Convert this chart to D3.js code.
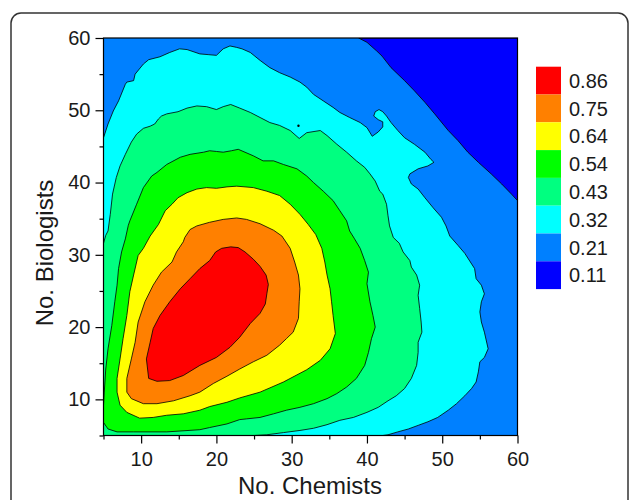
<!DOCTYPE html>
<html>
<head>
<meta charset="utf-8">
<script src="https://cdn.jsdelivr.net/npm/d3@7"></script>
<style>
  body { margin: 0; background: #fff; }
  text { font-family: "Liberation Sans", Arial, sans-serif; fill: #1a1a1a; }
</style>
</head>
<body>
<script>
// Contour levels, top of legend to bottom
const levels = [0.86, 0.75, 0.64, 0.54, 0.43, 0.32, 0.21, 0.11];
const colors = ["#ff0000", "#ff8000", "#ffff00", "#00ff00", "#00ff80", "#00ffff", "#0080ff", "#0000ff"];

const xTicks = [10, 20, 30, 40, 50, 60];
const xMinor = [5, 15, 25, 35, 45, 55];
const yTicks = [10, 20, 30, 40, 50, 60];
const yMinor = [5, 15, 25, 35, 45, 55];

// Region boundaries, [chemists, biologists]
const contour011 = [[38.9,60],[40.0,59.4],[41.3,58.2],[42.0,57.5],[43.2,55.9],[45.0,54.1],[46.3,52.7],[47.7,51.1],
  [49.0,49.5],[50.8,47.2],[52.1,45.8],[53.4,44.2],[54.8,42.8],[56.5,41.2],[57.9,39.8],[59.2,38.4],[60,37.5],[60,60]];

const contour032 = [[5,46.2],[5.6,48.1],[6.3,49.9],[7.0,51.3],[7.9,53.6],[8.1,53.9],[9.0,54.1],[9.2,55.0],[10.3,56.4],
  [11.0,57.0],[12.5,57.4],[13.8,58.0],[15.1,58.5],[16.1,58.4],[17.8,57.8],[18.9,57.7],[20.0,57.6],[20.9,58.5],[21.8,58.9],
  [22.7,58.7],[23.4,58.5],[24.5,58.0],[25.8,56.9],[27.1,55.9],[28.4,55.2],[29.8,54.6],[31.1,53.9],[32.0,53.2],[32.9,52.2],
  [34.2,51.3],[35.5,50.4],[36.4,49.7],[37.7,49.0],[39.1,48.3],[40.0,47.6],[40.7,46.4],[41.5,47.0],[42.1,47.7],[42.1,48.4],
  [41.5,48.7],[40.9,49.2],[41.1,49.8],[41.6,50.1],[42.1,49.8],[42.6,49.2],[43.2,48.3],[44.1,47.2],[45.0,46.2],[46.3,45.3],
  [47.7,44.2],[48.5,43.2],[48.9,42.8],[48.1,42.3],[46.8,41.9],[45.7,41.2],[45.5,40.7],[45.9,39.8],[46.8,39.1],[47.7,37.9],
  [48.8,36.5],[49.9,35.2],[50.5,34.0],[51.0,32.6],[52.1,31.3],[53.0,30.2],[54.3,28.1],[54.5,26.7],[55.2,25.8],[55.6,24.6],
  [55.2,23.5],[55.0,22.1],[55.2,20.7],[55.6,19.3],[56.1,17.0],[55.6,15.8],[55.0,15.2],[54.8,13.8],[54.5,12.4],[53.9,11.5],
  [53.0,10.5],[51.9,9.4],[50.8,8.5],[49.4,7.5],[48.1,6.9],[46.8,6.4],[45.5,5.9],[44.1,5.5],[42.8,5.1],[42.1,5],[5,5]];

const contour043 = [[5,31.6],[5.3,32.7],[5.6,33.3],[5.9,35.6],[6.2,38.4],[6.7,40.7],[7.2,42.3],[7.9,43.9],[8.7,45.6],
  [9.4,46.7],[10.3,47.5],[11.2,47.8],[11.8,48.1],[12.3,48.8],[12.7,49.2],[13.4,49.5],[14.9,49.8],[16.1,50.3],[17.4,50.6],
  [18.7,50.5],[20.0,50.1],[20.9,50.5],[21.9,50.8],[23.1,50.3],[24.5,49.7],[25.8,49.0],[27.1,48.3],[28.4,47.9],[29.8,47.2],
  [31.0,46.1],[32.0,46.9],[33.8,47.2],[34.7,46.5],[36.0,45.3],[37.3,44.2],[38.6,43.0],[39.7,42.1],[40.4,41.2],[41.1,40.2],
  [41.7,38.8],[42.1,38.4],[42.6,37.0],[42.8,35.4],[43.0,34.0],[43.5,32.4],[44.3,31.6],[44.8,30.4],[45.7,29.2],[45.9,28.3],
  [46.6,27.2],[47.0,25.8],[46.8,24.4],[47.0,22.6],[47.2,20.7],[47.3,19.3],[46.8,17.9],[46.8,16.5],[46.6,14.7],[45.9,12.9],
  [45.0,11.5],[43.9,10.5],[42.8,9.8],[41.5,8.9],[40.0,8.2],[38.2,7.5],[36.4,7.1],[34.7,6.5],[32.9,6.0],[31.1,5.7],
  [28.9,5.4],[26.7,5.1],[25.0,5],[5,5]];

const contour054 = [[5,9.2],[5.1,11.0],[5.3,14.2],[5.6,17.0],[6.1,20.2],[6.5,23.5],[6.8,25.8],[7.0,28.1],[7.4,30.4],
  [7.9,32.2],[8.3,34.1],[8.5,34.7],[9.4,37.0],[10.3,39.3],[11.4,40.9],[12.1,41.4],[13.4,42.5],[15.2,43.5],[16.5,43.9],
  [18.3,44.2],[19.1,44.4],[20.0,44.3],[20.9,44.2],[22.0,44.4],[22.9,44.6],[24.9,43.7],[26.2,43.0],[27.6,43.0],[28.9,42.5],
  [30.7,41.9],[32.0,40.9],[32.9,40.0],[34.2,38.8],[35.5,37.5],[36.4,36.1],[37.3,34.7],[37.7,33.3],[38.3,32.3],[39.1,30.9],
  [39.7,29.2],[40.2,27.6],[40.0,26.0],[40.4,23.5],[40.8,21.6],[41.1,20.0],[40.6,18.4],[40.2,16.5],[39.7,14.7],[38.6,12.9],
  [37.3,11.7],[36.0,10.8],[34.7,10.1],[32.9,9.4],[31.1,8.9],[29.3,8.5],[27.6,8.0],[25.8,7.5],[24.0,7.3],[23.1,7.2],
  [21.4,6.6],[19.1,6.1],[17.8,5.8],[13.4,5.5],[9.0,5.5],[6.8,5.5],[5.6,5.9],[5,6.8]];

const contour064 = [[11.2,32.6],[12.3,34.2],[13.2,36.1],[14.1,37.0],[14.9,37.9],[16.1,38.6],[17.4,39.1],[18.7,39.3],
  [20.0,39.2],[21.4,39.4],[22.7,39.5],[24.9,39.3],[26.7,38.8],[28.4,38.2],[29.8,37.0],[31.1,35.6],[32.2,34.2],[33.2,32.8],
  [34.0,30.9],[34.4,29.0],[34.7,27.2],[35.1,25.3],[35.3,23.5],[35.5,21.6],[35.8,19.1],[35.1,17.0],[33.8,15.4],[32.0,14.1],
  [28.9,12.4],[25.8,11.0],[23.1,10.2],[21.4,9.6],[19.1,9.0],[17.8,8.5],[15.6,8.0],[13.4,7.8],[11.6,7.5],[9.8,7.4],
  [8.1,8.2],[7.2,9.2],[6.8,11.0],[6.8,12.9],[7.2,15.6],[7.6,18.4],[8.1,21.6],[8.5,24.9],[9.0,27.2],[9.6,29.9],[10.3,30.9]];

const contour075 = [[15.8,32.4],[16.5,33.5],[17.4,34.0],[19.1,34.5],[20.9,34.9],[22.7,35.1],[24.0,34.9],[25.8,34.3],
  [27.6,33.4],[28.7,32.6],[29.8,30.9],[30.4,29.0],[30.9,27.2],[31.1,25.3],[31.0,23.5],[30.9,21.2],[30.2,19.3],[29.3,18.4],
  [28.4,17.5],[26.7,16.1],[24.9,15.2],[23.1,14.2],[21.4,13.2],[19.6,12.2],[17.8,11.0],[16.5,10.5],[14.3,9.8],[12.1,9.4],
  [10.3,9.4],[8.7,10.1],[8.1,11.0],[8.1,12.9],[8.7,15.6],[9.2,17.9],[9.6,20.7],[10.5,23.5],[11.6,25.8],[12.7,27.6],
  [14.1,29.0],[14.7,30.4],[15.6,31.8]];

const contour086 = [[20.7,30.9],[21.9,31.1],[22.9,31.0],[23.8,30.4],[24.9,29.4],[25.8,28.4],[26.6,27.2],[26.9,25.9],
  [26.7,24.6],[26.5,23.2],[25.8,21.9],[24.5,20.5],[23.1,18.6],[21.8,17.2],[20.0,15.8],[17.8,14.7],[15.6,13.3],[13.8,12.6],
  [12.1,12.5],[11.0,12.9],[10.7,15.6],[11.2,17.9],[11.6,19.8],[12.5,21.6],[13.8,23.5],[15.2,25.3],[16.5,26.7],[17.8,28.1],
  [19.1,29.2],[19.9,30.4]];

// a tiny closed contour inside the 0.43 band
const specks = [[30.9, 47.85]];

let width = 630;
let height = 500;

let svg = d3.select('body').append('svg')
            .attr('width', width)
            .attr('height', height);

// The rounded outer frame
svg.append('rect').attr('x', 11)
                  .attr('y', 13)
                  .attr('width', 617)
                  .attr('height', 540)
                  .attr('rx', 10)
                  .attr('fill', 'none')
                  .attr('stroke', '#333')
                  .attr('stroke-width', 1.5);

let x = d3.scaleLinear().domain([5, 60]).range([103.5, 517.5]);
let y = d3.scaleLinear().domain([5, 60]).range([435.5, 38]);

svg.append('clipPath').attr('id', 'plot-clip')
   .append('rect').attr('x', x(5))
                  .attr('y', y(60))
                  .attr('width', x(60) - x(5))
                  .attr('height', y(5) - y(60));

let plot = svg.append('g').attr('clip-path', 'url(#plot-clip)');

// Lowest band fills the whole plot
plot.append('rect').attr('x', x(5))
                   .attr('y', y(60))
                   .attr('width', x(60) - x(5))
                   .attr('height', y(5) - y(60))
                   .attr('fill', colors[levels.indexOf(0.21)]);

let regions = [
  { level: 0.11, points: contour011 },
  { level: 0.32, points: contour032 },
  { level: 0.43, points: contour043 },
  { level: 0.54, points: contour054 },
  { level: 0.64, points: contour064 },
  { level: 0.75, points: contour075 },
  { level: 0.86, points: contour086 }
];

let line = d3.line()
             .x(d => x(d[0]))
             .y(d => y(d[1]))
             .curve(d3.curveLinearClosed);

plot.selectAll('path.band')
    .data(regions)
    .join('path')
    .attr('class', 'band')
    .attr('d', d => line(d.points))
    .attr('fill', d => colors[levels.indexOf(d.level)])
    .attr('stroke', '#000')
    .attr('stroke-width', 0.8)
    .attr('stroke-linejoin', 'round');

plot.selectAll('circle.speck')
    .data(specks)
    .join('circle')
    .attr('class', 'speck')
    .attr('cx', d => x(d[0]))
    .attr('cy', d => y(d[1]))
    .attr('r', 1.2)
    .attr('fill', '#000');

// The plot border
svg.append('rect').attr('x', x(5))
                  .attr('y', y(60))
                  .attr('width', x(60) - x(5))
                  .attr('height', y(5) - y(60))
                  .attr('fill', 'none')
                  .attr('stroke', '#000')
                  .attr('stroke-width', 1.2);

// Axes
let xAxis = svg.append('g')
               .attr('transform', `translate(0,${y(5)})`)
               .call(d3.axisBottom(x).tickValues(xTicks).tickSize(8).tickSizeOuter(0).tickPadding(8));
let xMinorAxis = svg.append('g')
               .attr('transform', `translate(0,${y(5)})`)
               .call(d3.axisBottom(x).tickValues(xMinor).tickSize(4).tickSizeOuter(0).tickFormat(''));

let yAxis = svg.append('g')
               .attr('transform', `translate(${x(5)},0)`)
               .call(d3.axisLeft(y).tickValues(yTicks).tickSize(8).tickSizeOuter(0).tickPadding(5));
let yMinorAxis = svg.append('g')
               .attr('transform', `translate(${x(5)},0)`)
               .call(d3.axisLeft(y).tickValues(yMinor).tickSize(4).tickSizeOuter(0).tickFormat(''));

[xAxis, xMinorAxis, yAxis, yMinorAxis].forEach(g => {
  g.selectAll('.domain').remove();
  g.selectAll('line').attr('stroke', '#000').attr('stroke-width', 1.2);
  g.selectAll('text').attr('font-size', 20)
                     .attr('font-family', '"Liberation Sans", Arial, sans-serif')
                     .attr('fill', '#1a1a1a');
});

// Axis titles
svg.append('text').attr('x', 310)
                  .attr('y', 494)
                  .attr('text-anchor', 'middle')
                  .attr('font-size', 24)
                  .text('No. Chemists');

svg.append('text').attr('transform', 'translate(53,253) rotate(-90)')
                  .attr('text-anchor', 'middle')
                  .attr('font-size', 24)
                  .text('No. Biologists');

// The legend
let boxH = 27.8;
let legend = svg.append('g').attr('transform', 'translate(536,66.7)');

legend.selectAll('rect')
      .data(levels)
      .join('rect')
      .attr('x', 0)
      .attr('y', (d, i) => i * boxH)
      .attr('width', 25)
      .attr('height', boxH)
      .attr('fill', (d, i) => colors[i]);

legend.selectAll('text')
      .data(levels)
      .join('text')
      .attr('x', 33)
      .attr('y', (d, i) => i * boxH + boxH / 2)
      .attr('dy', '0.36em')
      .attr('font-size', 20)
      .text(d => d.toFixed(2));
</script>
</body>
</html>
